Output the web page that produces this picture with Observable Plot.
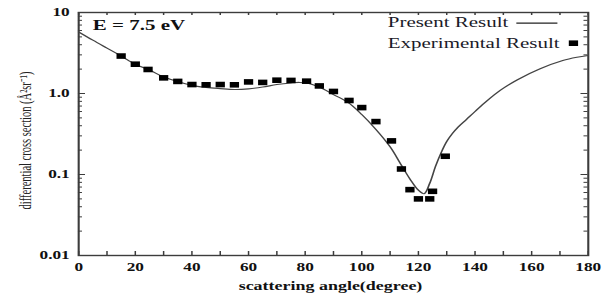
<!DOCTYPE html>
<html><head><meta charset="utf-8">
<script src="https://cdn.jsdelivr.net/npm/d3@7"></script>
<script src="https://cdn.jsdelivr.net/npm/@observablehq/plot@0.6"></script>
<style>
html,body{margin:0;padding:0;background:#fff;overflow:hidden}
#wrap{width:409px;height:297px;transform:scale(1.4988,1);transform-origin:0 0}
</style></head><body><div id="wrap"></div>
<script>
// Present Result (theory curve)
const theoryAngle = [0,5,10,15,20,25,30,35,40,45,50,55,60,65,70,75,78,81,85,90,95,100,105,110,114,117,120,122,124,126,128,130,132,134,137,140,144,149,155,163,171,176,180];
const theoryValue = [5.75,4.55,3.63,2.9,2.3,1.95,1.6,1.41,1.26,1.19,1.15,1.12,1.14,1.2,1.29,1.35,1.37,1.34,1.2,0.97,0.78,0.55,0.36,0.22,0.13,0.088,0.064,0.058,0.078,0.125,0.185,0.255,0.32,0.385,0.48,0.6,0.8,1.1,1.48,2.02,2.55,2.8,2.95];
// Experimental Result
const expAngle = [15,20,24.5,30,35,40,45,50,55,60,65,70,75,80.5,85,90,95.5,100,105,110.5,114,117,120,124,125,129.5];
const expValue = [2.9,2.3,1.98,1.56,1.41,1.29,1.28,1.29,1.28,1.39,1.37,1.46,1.45,1.42,1.24,1.06,0.82,0.67,0.45,0.26,0.117,0.065,0.05,0.05,0.062,0.168];
// axes
const xTickLabels = [0,20,40,60,80,100,120,140,160,180];
const xTicks = [0,10,20,30,40,50,60,70,80,90,100,110,120,130,140,150,160,170,180];
const yTickValues = [0.01,0.1,1,10];
const yTickLabels = ["0.01","0.1","1.0","10"];
const yMinorTicks = [0.02,0.03,0.04,0.05,0.06,0.07,0.08,0.09,0.2,0.3,0.4,0.5,0.6,0.7,0.8,0.9,2,3,4,5,6,7,8,9];
const title = "E = 7.5 eV";
const legendLabels = ["Present Result","Experimental Result"];
const xLabel = "scattering angle(degree)";
const yLabel = "differential cross section (Å²sr⁻¹)";

const theory = theoryAngle.map((a,i)=>({a, v: theoryValue[i]}));
const exp = expAngle.map((a,i)=>({a, v: expValue[i]}));

const W = 409, Hh = 297, mL = 52, mR = 17, mT = 12, mB = 42;
const iw = W - mL - mR, ih = Hh - mT - mB;
const rectSym = {draw(ctx){ ctx.rect(-3.1,-2.8,6.2,5.6); }};
const lineSym = {draw(ctx){ ctx.moveTo(-13.7,0); ctx.lineTo(13.7,0); }};
const serif = "'Liberation Serif','Times New Roman',serif";
const axisColor = "#3c3c3c";

const chart = Plot.plot({
  width: W, height: Hh,
  marginLeft: mL, marginRight: mR, marginTop: mT, marginBottom: mB,
  style: {fontFamily: serif, fontSize: "11.5px", fontWeight: "bold", color: "#111", background: "#fff"},
  x: {domain: [0,180]},
  y: {type: "log", domain: [0.01,10]},
  marks: [
    Plot.tickX(xTicks, {x: d=>d, insetTop: ih-4, stroke: axisColor, strokeWidth: 1}),
    Plot.tickX(xTicks, {x: d=>d, insetBottom: ih-3, stroke: axisColor, strokeWidth: 1}),
    Plot.tickY(yTickValues, {y: d=>d, insetRight: iw-4.7, stroke: axisColor, strokeWidth: 1}),
    Plot.tickY(yMinorTicks, {y: d=>d, insetRight: iw-2.7, stroke: axisColor, strokeWidth: 1}),
    Plot.tickY(yTickValues, {y: d=>d, insetLeft: iw-4.7, stroke: axisColor, strokeWidth: 1}),
    Plot.tickY(yMinorTicks, {y: d=>d, insetLeft: iw-2.7, stroke: axisColor, strokeWidth: 1}),
    Plot.frame({stroke: axisColor, strokeWidth: 1.4}),
    Plot.axisX({ticks: xTickLabels, tickSize: 0, tickPadding: 7, label: null}),
    Plot.axisY({ticks: yTickValues, tickFormat: d => yTickLabels[yTickValues.indexOf(d)], tickSize: 0, tickPadding: 6, label: null}),
    Plot.line(theory, {x: "a", y: "v", curve: "catmull-rom", stroke: "#444", strokeWidth: 1.1}),
    Plot.dot(exp, {x: "a", y: "v", symbol: rectSym, fill: "#000", stroke: "none", r: 3}),
    Plot.text([title], {frameAnchor: "top-left", text: d=>d, dx: 9.4, dy: 13, textAnchor: "start", lineAnchor: "middle", fontSize: 14, fontWeight: "bold", fill: "#111"}),
    Plot.text([legendLabels[0]], {frameAnchor: "top-left", text: d=>d, dx: 206.2, dy: 9.7, textAnchor: "start", lineAnchor: "middle", fontSize: 14, fontWeight: "normal", fill: "#1a1a28"}),
    Plot.text([legendLabels[1]], {frameAnchor: "top-left", text: d=>d, dx: 206.2, dy: 31, textAnchor: "start", lineAnchor: "middle", fontSize: 14, fontWeight: "normal", fill: "#1a1a28"}),
    Plot.dot([legendLabels[0]], {frameAnchor: "top-left", dx: 305.7, dy: 10.7, symbol: lineSym, stroke: "#222", fill: "none", strokeWidth: 1.3}),
    Plot.dot([legendLabels[1]], {frameAnchor: "top-left", dx: 330.1, dy: 30.7, symbol: rectSym, fill: "#000", stroke: "none"}),
    Plot.text([xLabel], {frameAnchor: "bottom", text: d=>d, dx: -2, dy: 31, textAnchor: "middle", lineAnchor: "middle", fontSize: 12, fontWeight: "bold", fill: "#111"}),
    Plot.text([yLabel], {frameAnchor: "left", text: d=>d, rotate: -90, dx: -35.3, dy: 6.5, textAnchor: "middle", lineAnchor: "middle", fontSize: 10.5, fontWeight: "normal", fill: "#222"})
  ]
});
document.getElementById("wrap").appendChild(chart);
</script>
</body></html>
